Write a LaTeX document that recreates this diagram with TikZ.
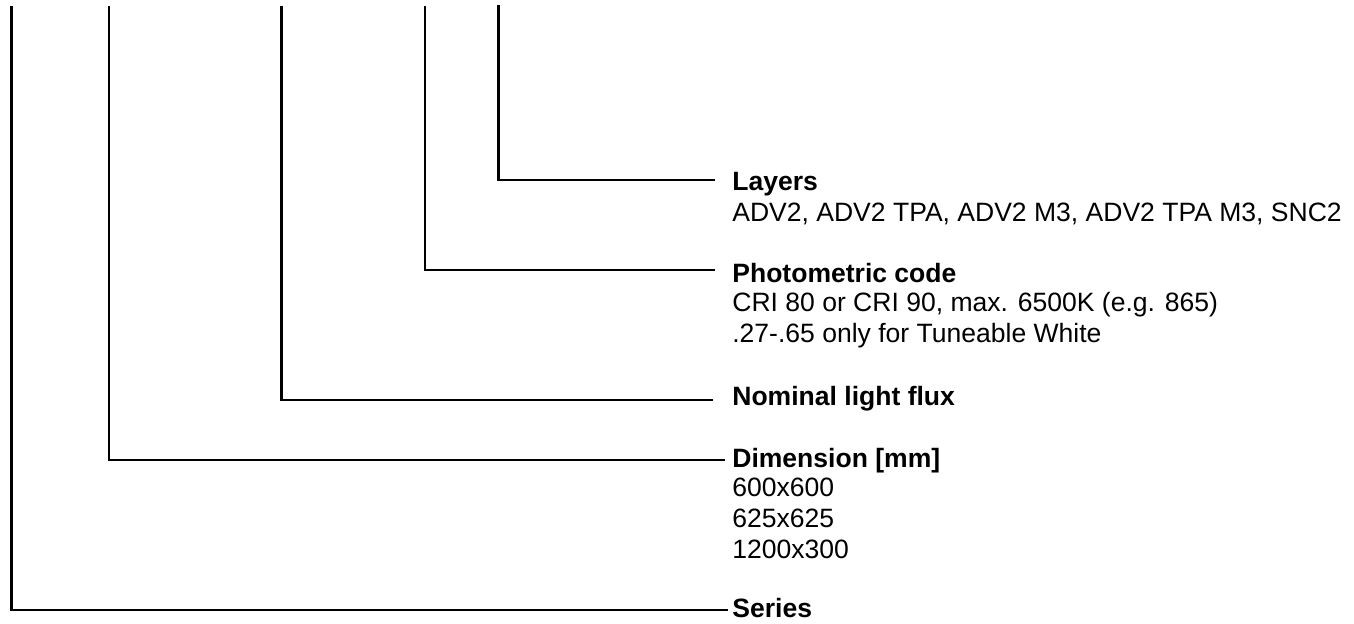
\documentclass[tikz,border=0pt]{standalone}
\usepackage{fontspec}
\setmainfont{Liberation Sans}
\usetikzlibrary{positioning}

\begin{document}
\begin{tikzpicture}[x=0.02cm, y=-0.02cm,
  lbl/.style={anchor=base west, align=left, inner sep=0pt, font=\fontsize{15.1}{17.4}\selectfont},
  head/.style={lbl, font=\fontsize{15.1}{17.4}\selectfont\bfseries},
  lead/.style={line width=1.2pt}
]
\useasboundingbox (0,0) rectangle (1354,623);

% free ends at the top edge
\coordinate (t-series) at (11.5,6);
\coordinate (t-dim) at (109,6);
\coordinate (t-flux) at (281.5,6);
\coordinate (t-photo) at (425,6);
\coordinate (t-layers) at (498.5,5);

% ends next to the labels
\coordinate (e-series) at (728,610);
\coordinate (e-dim) at (725,460);
\coordinate (e-flux) at (713,400);
\coordinate (e-photo) at (715,270);
\coordinate (e-layers) at (715,180);

% headings (base line) and their lines below (base of last line)
\node[head] (layers) at (732,190) {Layers};
\node[lbl] (layers-txt) at (732,221) {ADV2, ADV2 TPA, ADV2 M3, ADV2 TPA M3, SNC2};
\node[head] (photo) at (732,282) {Photometric code};
\node[lbl] (photo-txt) at (732,342) {CRI 80 or CRI 90, max. 6500K (e.g. 865)\\.27-.65 only for Tuneable White};
\node[head] (flux) at (732,405) {Nominal light flux};
\node[head] (dim) at (732,467) {Dimension [mm]};
\node[lbl] (dim-txt) at (732,558) {600x600\\625x625\\1200x300};
\node[head] (series) at (732,617) {Series};

\draw[lead] (t-layers) |- (e-layers);
\draw[lead] (t-photo) |- (e-photo);
\draw[lead] (t-flux) |- (e-flux);
\draw[lead] (t-dim) |- (e-dim);
\draw[lead] (t-series) |- (e-series);
\end{tikzpicture}
\end{document}
